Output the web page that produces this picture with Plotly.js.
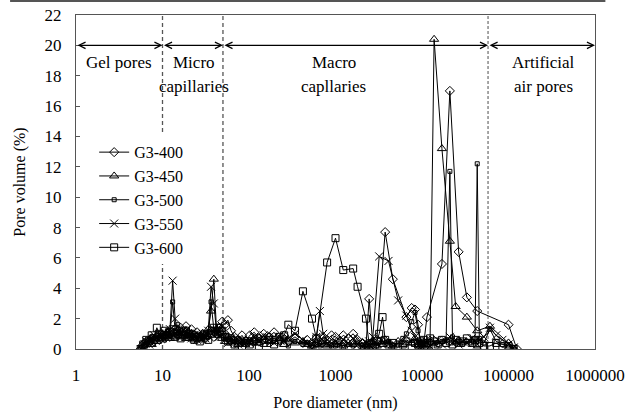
<!DOCTYPE html>
<html>
<head>
<meta charset="utf-8">
<script src="https://cdn.plot.ly/plotly-3.0.1.min.js"></script>
</head>
<body style="margin:0;background:#fff">
<div id="chart" style="width:635px;height:413px"></div>
<script>
// Pore diameter grid (nm)
const diameter = [
  5.6, 6.0, 6.5, 7.0, 7.5, 8.0, 8.6, 9.2, 9.9, 10.6, 11.4, 12.2, 13.1, 14.0, 15.0, 16.2, 17.4, 18.7, 20.1, 21.6,
  23.3, 25.1, 27.0, 29.1, 31.4, 33.8, 36.4, 39.2, 42.2, 45.5, 49.0, 52.8, 57, 62, 68, 75, 83, 92,
  102, 115, 130, 148, 170, 195, 225, 255, 285, 340, 420, 470, 535, 600, 660, 720, 800, 900,
  1000, 1100, 1230, 1400, 1600, 1800, 2050, 2250, 2450, 2700, 3000, 3200, 3500, 3750, 4100, 4600, 5300, 6000, 6600, 7600, 8300, 9000, 9700,
  10500, 11400, 12400, 13800, 15200, 17000, 19000, 21000, 22500, 24500, 26500, 29500, 33000, 37500, 41000, 43500, 46000, 52000, 61000, 72000, 85000, 100000, 115000, 125000
];

// Pore volume (%) per sample
const g3_400 = [
  0.0, 0.3, 0.5, 0.4, 0.7, 0.5, 0.8, 0.6, 0.9, 0.7, 1.0, 0.8, 1.1, 1.3, 0.9, 1.4, 1.2, 1.5, 1.0, 1.3,
  0.9, 1.1, 0.8, 1.0, 0.7, 0.9, 1.2, 0.8, 1.0, 1.4, 1.8, 1.6, 1.9, 1.2, 0.8, 0.6, 0.9, 0.5,
  0.9, 1.1, 0.7, 1.0, 0.8, 1.1, 0.6, 0.9, 0.5, 0.8, 0.4, 0.6, 0.3, 0.7, 0.5, 0.8, 0.6, 0.9,
  0.8, 0.6, 0.9, 0.7, 1.0, 0.6, 0.4, 0.2, 3.3, 0.3, 0.6, null, null, 7.7, null, 4.6, null, null, 2.1, 2.7, 2.6, 1.6, 0.3,
  0.4, 2.1, null, null, null, 5.6, null, 17.0, null, null, 6.4, null, 3.4, null, null, 2.5, null, null, null, null, null, 1.6, null, 0.0
];
const g3_450 = [
  0.0, 0.2, 0.4, 0.6, 0.3, 0.7, 0.5, 0.9, 0.6, 0.8, 1.1, 0.7, 1.0, 0.8, 1.2, 0.9, 1.0, 0.7, 1.1, 0.8,
  0.6, 0.9, 0.7, 1.0, 0.8, 1.3, 2.5, 4.6, 1.2, 0.9, 0.7, 0.5, 0.8, 0.4, 0.6, 0.3, 0.5, 0.4,
  0.5, 0.7, 0.4, 0.6, 0.8, 0.5, 0.7, 0.3, 0.6, 0.4, 0.5, 0.3, 0.2, 0.4, 0.3, 0.5, 0.2, 0.4,
  0.3, 0.5, 0.2, 0.4, 0.3, 0.5, 0.2, 0.3, 0.1, 0.4, 0.2, 0.5, 0.3, 0.6, 0.4, 0.2, 0.5, 0.3, 0.6, 0.4, 0.7, 0.3, 0.2,
  0.3, 0.2, 0.6, 20.4, null, 13.2, null, 7.1, null, 2.8, null, null, 2.1, null, null, 1.2, null, null, 1.5, null, null, 0.4, 0.0, null
];
const g3_500 = [
  0.0, 0.4, 0.3, 0.6, 0.8, 0.5, 0.9, 0.7, 1.0, 0.8, 1.2, 0.9, 3.1, 1.2, 1.6, 1.3, 0.8, 1.1, 0.9, 0.7,
  1.0, 0.6, 0.9, 0.7, 1.1, 0.8, 3.1, 1.3, 1.0, 1.5, 1.3, 0.9, 0.6, 0.8, 0.5, 0.7, 0.4, 0.6,
  0.6, 0.4, 0.8, 0.5, 0.3, 0.7, 0.4, 0.6, 0.2, 0.5, 0.3, 0.4, 0.1, 0.3, 0.2, 0.4, 0.3, 0.2,
  0.2, 0.4, 0.1, 0.3, 0.2, 0.4, 0.1, 0.3, 0.2, 0.5, 0.2, 0.4, 0.6, 0.3, 0.5, 0.2, 0.4, 0.7, 1.0, 1.8, 2.4, 1.2, 0.4,
  0.3, 0.5, 0.2, 0.4, 0.3, 0.5, 0.6, 11.7, 0.8, 0.4, 0.6, 0.3, 0.5, 0.4, 0.6, 12.2, 0.7, 0.4, 1.3, 0.5, 0.3, 0.2, 0.0, null
];
const g3_550 = [
  0.0, 0.2, 0.5, 0.3, 0.6, 0.9, 0.7, 1.0, 0.8, 1.1, 0.9, 1.3, 4.5, 2.0, 1.1, 0.9, 1.2, 0.8, 1.0, 0.7,
  0.9, 0.6, 0.8, 1.0, 0.7, 1.2, 4.1, 3.0, 1.1, 0.8, 1.0, 0.6, 0.4, 0.7, 0.5, 0.3, 0.6, 0.4,
  0.4, 0.8, 0.5, 0.9, 0.6, 0.4, 0.8, 0.5, 0.7, 1.0, 0.6, 0.4, 0.3, 0.8, 2.5, 1.0, 0.6, 0.4,
  0.5, 0.3, 0.6, 0.4, 0.7, 0.3, 0.2, 0.4, 0.5, 0.8, null, 6.1, null, null, 5.8, null, 3.2, null, 2.2, 1.2, 0.8, 0.4, 0.2,
  0.3, 0.5, 0.2, 0.4, 0.6, 0.3, 0.5, 0.8, 0.4, 0.6, 0.3, 0.5, 0.4, 0.7, 0.5, 0.3, 0.6, 0.8, 1.4, 0.9, 0.6, 0.3, 0.1, null
];
const g3_600 = [
  0.0, 0.3, 0.6, 0.5, 0.9, 0.7, 1.4, 1.0, 0.8, 1.2, 0.9, 1.1, 1.3, 0.8, 1.0, 0.7, 0.9, 1.2, 0.8, 1.0,
  0.6, 0.8, 0.5, 0.7, 0.9, 0.6, 1.0, 1.4, 1.2, 1.4, 1.2, 0.8, 0.5, 0.6, 0.3, 0.5, 0.2, 0.4,
  0.3, 0.5, 0.2, 0.4, 0.6, 0.3, 0.8, 0.9, 1.6, 1.2, 3.8, null, 2.0, 0.7, null, null, 5.7, null,
  7.3, null, 5.2, null, 5.3, 4.1, null, 2.0, 0.3, 0.1, 0.5, 1.0, 2.1, 0.6, 0.3, 0.4, 0.1, 0.3, 0.5, 0.2, 0.4, 0.3, 0.5,
  0.6, 0.4, 0.7, 0.5, 0.3, 0.6, 0.4, 0.5, 0.3, 0.6, 0.4, 0.5, 0.7, 0.4, 0.6, 0.3, 0.4, 0.2, 0.2, 0.4, 0.1, 0.2, 0.0, null
];

const seriesNames = ['G3-400', 'G3-450', 'G3-500', 'G3-550', 'G3-600'];
const seriesValues = [g3_400, g3_450, g3_500, g3_550, g3_600];
const seriesSymbols = ['diamond-open', 'triangle-up-open', 'square-open', 'x-thin-open', 'square-open'];
const seriesSizes = [7, 8, 4, 8, 7];

const xTickVals = [1, 10, 100, 1000, 10000, 100000, 1000000];
const xTickText = ['1', '10', '100', '1000', '10000', '100000', '1000000'];

// Pore class boundaries (nm) and labels
const bounds = [1, 10, 50, 58000, 1000000];
const classLabels = [
  {lines: ['Gel pores'], xp: 0.083},
  {lines: ['Micro', 'capillaries'], xp: 0.228},
  {lines: ['Macro', 'capllaries'], xp: 0.497},
  {lines: ['Artificial', 'air pores'], xp: 0.900}
];
const arrowLevel = 20;

const FONT = 'Liberation Serif';

const traces = seriesNames.map((n, i) => ({
  type: 'scatter',
  mode: 'lines+markers',
  name: n,
  x: diameter,
  y: seriesValues[i],
  connectgaps: true,
  line: {color: '#000', width: 1},
  marker: {symbol: seriesSymbols[i], size: seriesSizes[i], color: '#000', line: {color: '#000', width: 1}}
}));

const shapes = [];
[bounds[1], bounds[2], bounds[3]].forEach((b, i) => {
  shapes.push({
    type: 'line', xref: 'x', yref: 'y',
    x0: b, x1: b, y0: 0, y1: 22,
    line: {color: i === 2 ? '#777' : '#555', width: 1.3, dash: i === 2 ? '3px,2px' : '4px,3px'},
    layer: 'below'
  });
});
shapes.push({type: 'rect', xref: 'paper', yref: 'paper', x0: -0.127, x1: 1.02, y0: 1.039, y1: 1.06,
  fillcolor: '#555', line: {width: 0}});

const annotations = [];
for (let i = 0; i < bounds.length - 1; i++) {
  annotations.push({
    xref: 'x', yref: 'y', axref: 'x', ayref: 'y',
    x: Math.log10(bounds[i + 1]), y: arrowLevel,
    ax: Math.log10(bounds[i]), ay: arrowLevel,
    text: '', showarrow: true, arrowside: 'start+end',
    arrowhead: 5, startarrowhead: 5, arrowsize: 1, startarrowsize: 1,
    arrowwidth: 1.3, arrowcolor: '#000'
  });
}
const lineY = [0.859, 0.785];
classLabels.forEach(c => {
  c.lines.forEach((t, j) => {
    annotations.push({
      xref: 'paper', yref: 'paper', x: c.xp, y: lineY[j],
      xanchor: 'center', yanchor: 'middle', text: t, showarrow: false,
      font: {family: FONT, size: 17, color: '#000'}
    });
  });
});

const layout = {
  width: 635, height: 413,
  margin: {l: 76, r: 40, t: 15, b: 64},
  paper_bgcolor: '#fff', plot_bgcolor: '#fff',
  font: {family: FONT, size: 17, color: '#000'},
  showlegend: true,
  legend: {
    x: 0.035, y: 0.64, xanchor: 'left', yanchor: 'top',
    bgcolor: '#fff', borderwidth: 0,
    font: {family: FONT, size: 16, color: '#000'},
    tracegroupgap: 0
  },
  xaxis: {
    type: 'log', range: [0, 6],
    tickvals: xTickVals, ticktext: xTickText,
    ticks: '', showgrid: false, zeroline: false,
    showline: true, mirror: true, linecolor: '#555', linewidth: 1,
    ticklabelstandoff: 11,
    tickfont: {family: FONT, size: 17, color: '#000'},
    automargin: false,
    title: {text: 'Pore diameter (nm)', font: {family: FONT, size: 16, color: '#000'}, standoff: 12}
  },
  yaxis: {
    range: [0, 22], dtick: 2, tick0: 0,
    ticks: 'inside', ticklen: 4, tickcolor: '#555',
    showgrid: false, zeroline: false,
    showline: true, mirror: true, linecolor: '#555', linewidth: 1,
    ticklabelstandoff: 10,
    tickfont: {family: FONT, size: 17, color: '#000'},
    automargin: false,
    title: {text: 'Pore volume (%)', font: {family: FONT, size: 16, color: '#000'}, standoff: 14}
  },
  shapes: shapes,
  annotations: annotations
};

Plotly.newPlot('chart', traces, layout, {displayModeBar: false, staticPlot: true}).then(gd => {
  gd.querySelectorAll('svg text').forEach(t => {
    t.setAttribute('font-family', FONT);
    t.style.fontFamily = "'" + FONT + "'";
  });
});
</script>
</body>
</html>
